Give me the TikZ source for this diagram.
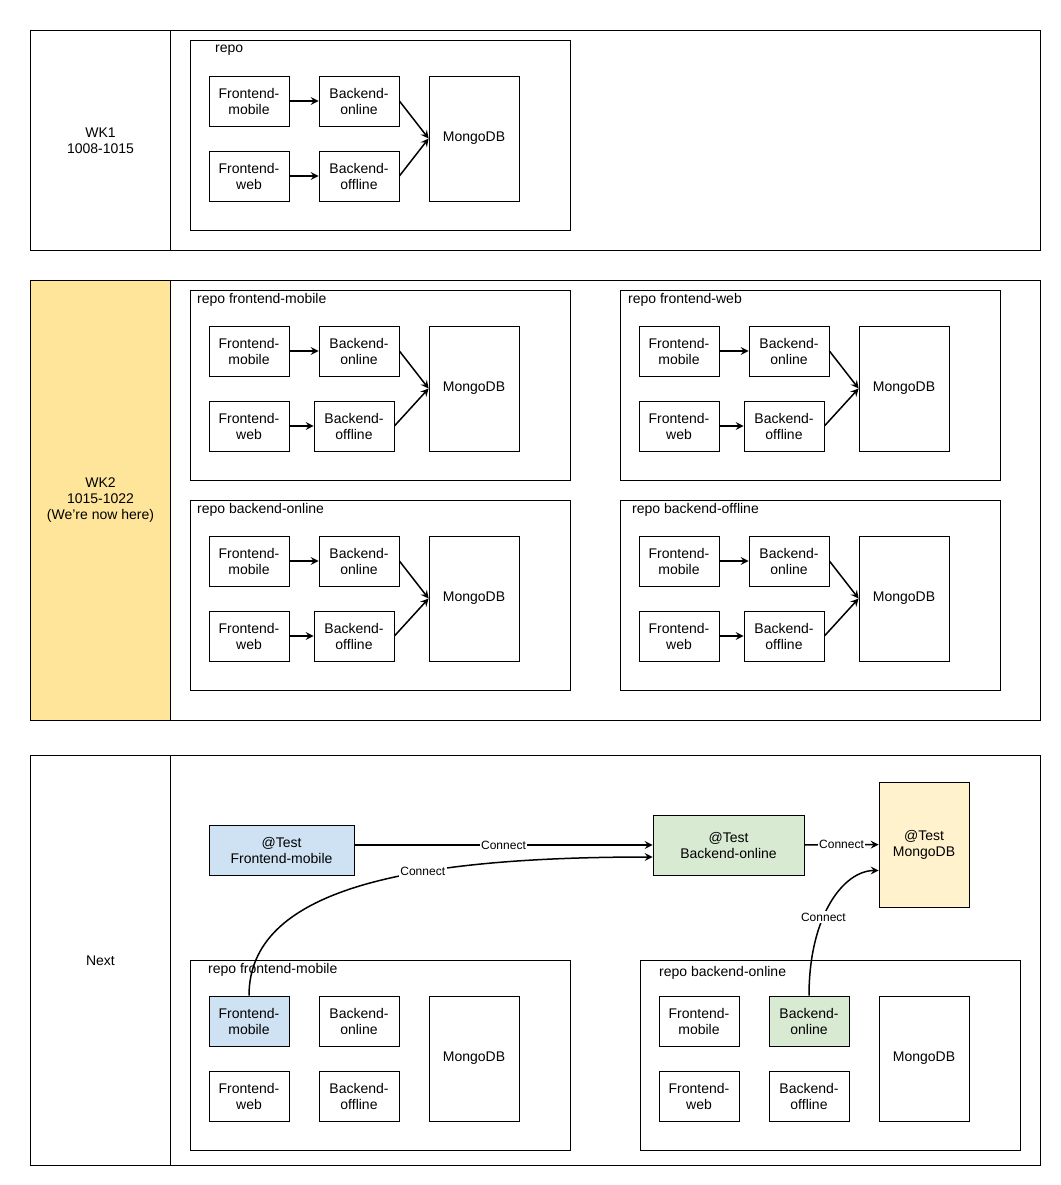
\documentclass[tikz,border=0pt]{standalone}
\usepackage{fontspec}
\setmainfont{Liberation Sans}
\usetikzlibrary{arrows.meta}

\definecolor{nowyellow}{HTML}{FFE599}
\definecolor{feblue}{HTML}{CFE2F3}
\definecolor{begreen}{HTML}{D9EAD3}
\definecolor{dbyellow}{HTML}{FFF2CC}

\tikzset{
  cell/.style={draw, line width=1pt, inner sep=0pt, align=center, anchor=north west},
  frame/.style={draw, line width=0.8pt, inner sep=0pt, anchor=north west,
    minimum width=380pt, minimum height=190pt},
  svc/.style={draw, line width=0.8pt, inner sep=0pt, align=center,
    minimum width=80pt, minimum height=50pt},
  db/.style={svc, minimum width=90pt, minimum height=125pt},
  dep/.style={-{Stealth[length=8pt,width=8pt,inset=3pt]}, line width=1.5pt},
  lbl/.style={fill=white, inner sep=1.5pt, font=\fontsize{12}{14}\selectfont},
}

% one repo block: prefix, x, y, title, title dx, title dy, offline shift, fm style, bon style
\newcommand{\repobox}[9]{%
  \node[frame] (#1) at (#2,#3) {};
  \node[anchor=west, inner sep=0pt] (#1-name) at (#2+#5,#3+#6+1) {#4};
  \node[svc,#8] (#1-fm) at (#2+59,#3+61) {Frontend-\\mobile};
  \node[svc,#9] (#1-bon) at (#2+169,#3+61) {Backend-\\online};
  \node[svc] (#1-fw) at (#2+59,#3+136) {Frontend-\\web};
  \node[svc] (#1-boff) at (#2+169+#7,#3+136) {Backend-\\offline};
  \node[db] (#1-db) at (#2+284,#3+98.5) {MongoDB};
}
\newcommand{\repoarrows}[1]{%
  \draw[dep] (#1-fm) -- (#1-bon);
  \draw[dep] (#1-fw) -- (#1-boff);
  \draw[dep] (#1-bon.east) -- (#1-db.west);
  \draw[dep] (#1-boff.east) -- (#1-db.west);
}

\begin{document}
\begin{tikzpicture}[x=1pt, y=-1pt, font=\fontsize{14}{16}\selectfont]
  \useasboundingbox (0,0) rectangle (1060,1185);

  % week rows
  \node[cell, minimum width=140pt, minimum height=220pt] (wk1) at (30,30) {WK1\\1008-1015};
  \node[cell, minimum width=870pt, minimum height=220pt] (wk1-body) at (170,30) {};
  \node[cell, fill=nowyellow, minimum width=140pt, minimum height=440pt] (wk2) at (30,280)
    {WK2\\1015-1022\\(We're now here)};
  \node[cell, minimum width=870pt, minimum height=440pt] (wk2-body) at (170,280) {};
  \node[cell, minimum width=140pt, minimum height=410pt] (nx) at (30,755) {Next};
  \node[cell, minimum width=870pt, minimum height=410pt] (nx-body) at (170,755) {};

  % WK1
  \repobox{r1}{190}{40}{repo}{25}{9}{0}{}{}
  \repoarrows{r1}

  % WK2
  \repobox{fm}{190}{290}{repo frontend-mobile}{7}{9}{-5}{}{}
  \repoarrows{fm}
  \repobox{fw}{620}{290}{repo frontend-web}{8}{9}{-5}{}{}
  \repoarrows{fw}
  \repobox{bon}{190}{500}{repo backend-online}{7}{9}{-5}{}{}
  \repoarrows{bon}
  \repobox{boff}{620}{500}{repo backend-offline}{12}{9}{-5}{}{}
  \repoarrows{boff}

  % Next
  \repobox{nfm}{190}{960}{repo frontend-mobile}{18}{9}{0}{fill=feblue}{}
  \repobox{nbon}{640}{960}{repo backend-online}{19}{12}{0}{}{fill=begreen}

  \node[svc, fill=feblue, minimum width=145pt] (t-fm) at (281.5,850) {@Test\\Frontend-mobile};
  \node[svc, fill=begreen, minimum width=151pt, minimum height=60pt] (t-be) at (728.5,845)
    {@Test\\Backend-online};
  \node[db, fill=dbyellow] (t-db) at (924,844.5) {@Test\\MongoDB};

  \draw[dep] (t-fm.east |- t-be.west) -- node[lbl] {Connect} (t-be.west);
  \draw[dep] (nfm-fm.north) .. controls +(0,-105) and +(-250,0) .. ([yshift=-12pt]t-be.west)
    node[lbl, pos=0.64] {Connect};
  \draw[dep] (t-be) -- node[lbl] {Connect} (t-db);
  \draw[dep] (nbon-bon.north) .. controls +(0,-80) and +(-35,0) .. ([yshift=-26pt]t-db.west)
    node[lbl, pos=0.4] {Connect};
\end{tikzpicture}
\end{document}
